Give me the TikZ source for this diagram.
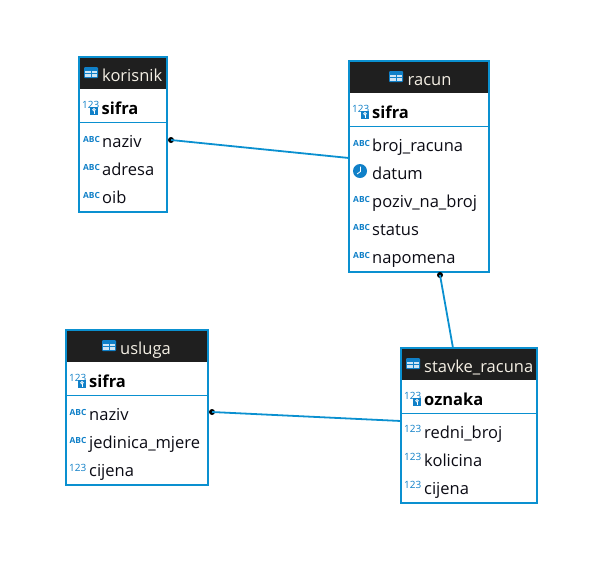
\documentclass[tikz,border=0pt]{standalone}
\usepackage{fontspec}
\setmainfont{Open Sans}
\definecolor{erblue}{HTML}{0A90D0}
\definecolor{eric}{HTML}{1080C8}
\definecolor{erdark}{HTML}{1F1F1F}
\definecolor{ertitle}{HTML}{F4EFE4}
\definecolor{erink}{HTML}{0B0B14}
\tikzset{
  erbox/.style={draw=erblue,line width=2pt,fill=white,anchor=north west,inner sep=0pt,outer sep=0pt},
  erhead/.style={fill=erdark,anchor=north west,inner sep=0pt,outer sep=0pt},
  titletext/.style={text=ertitle,font=\fontsize{16.5pt}{18pt}\selectfont,anchor=base west,inner sep=0pt},
  rowtext/.style={text=erink,font=\fontsize{16.5pt}{18pt}\selectfont,anchor=base west,inner sep=0pt},
  keytext/.style={text=black,font=\fontsize{16.5pt}{18pt}\selectfont\bfseries,anchor=base west,inner sep=0pt},
  abcicon/.style={text=eric,font=\fontsize{8.4pt}{9pt}\selectfont\bfseries,anchor=west,inner sep=0pt},
  numicon/.style={text=eric,font=\fontsize{10pt}{11pt}\selectfont,anchor=west,inner sep=0pt},
  conn/.style={draw=erblue,line width=1.8pt},
  enddot/.style={circle,fill=black,inner sep=0pt,minimum size=6pt,outer sep=0pt}
}
% table icon at left-top corner
\newcommand{\tabicon}[2]{%
  \fill[eric,rounded corners=1pt] (#1,#2) rectangle ++(14,11);
  \fill[white!80!eric] (#1+1.3,#2+4) rectangle ++(5.2,2.4);
  \fill[white!80!eric] (#1+7.5,#2+4) rectangle ++(5.2,2.4);
  \fill[white!80!eric] (#1+1.3,#2+7.2) rectangle ++(5.2,2.4);
  \fill[white!80!eric] (#1+7.5,#2+7.2) rectangle ++(5.2,2.4);
}
% key badge on 123
\newcommand{\keyicon}[2]{%
  \fill[eric] (#1,#2) rectangle ++(8,8);
  \draw[white,line width=.8pt] (#1+4,#2+2.8) circle (1.3);
  \draw[white,line width=.8pt] (#1+4,#2+4.1) -- ++(0,2.8);
}
\begin{document}
\begin{tikzpicture}[x=1pt,y=-1pt]
\useasboundingbox (0,0) rectangle (613,574);

% korisnik
\node[erbox,minimum width=88pt,minimum height=155pt] (korisnik) at (79,57) {};
\node[erhead,minimum width=86pt,minimum height=31pt] (korisnikh) at (80,58) {};
\draw[erblue,line width=1pt] (korisnik.west |- 0,122.5) -- (korisnik.east |- 0,122.5);
\tabicon{84}{67}
\node[titletext] (kt) at (102,81) {korisnik};
\node[numicon] (k1i) at (82,104.5) {123};
\keyicon{90}{107}
\node[keytext] (k1) at (101.5,114) {sifra};
\node[abcicon] (k2i) at (83,139.5) {ABC};
\node[rowtext] (k2) at (102,147) {naziv};
\node[abcicon] (k3i) at (83,167.5) {ABC};
\node[rowtext] (k3) at (102,175) {adresa};
\node[abcicon] (k4i) at (83,195.5) {ABC};
\node[rowtext] (k4) at (102,203) {oib};

% racun
\node[erbox,minimum width=140pt,minimum height=211pt] (racun) at (349,61) {};
\node[erhead,minimum width=138pt,minimum height=31pt] (racunh) at (350,62) {};
\draw[erblue,line width=1pt] (racun.west |- 0,126.5) -- (racun.east |- 0,126.5);
\tabicon{389}{71}
\node[titletext] (rt) at (407.5,85) {racun};
\node[numicon] (r1i) at (352,108.5) {123};
\keyicon{361}{111}
\node[keytext] (r1) at (372,118) {sifra};
\node[abcicon] (r2i) at (353,143.5) {ABC};
\node[rowtext] (r2) at (372,151) {broj\_racuna};
\fill[eric] (360,171) circle (7);
\draw[white,line width=.8pt] (360.5,166.5) -- (360.5,171.5) -- (357,174);
\node[rowtext] (r3) at (372,179) {datum};
\node[abcicon] (r4i) at (353,199.5) {ABC};
\node[rowtext] (r4) at (372,207) {poziv\_na\_broj};
\node[abcicon] (r5i) at (353,227.5) {ABC};
\node[rowtext] (r5) at (372,235) {status};
\node[abcicon] (r6i) at (353,255.5) {ABC};
\node[rowtext] (r6) at (372,263) {napomena};

% usluga
\node[erbox,minimum width=142pt,minimum height=155pt] (usluga) at (66,330) {};
\node[erhead,minimum width=140pt,minimum height=31pt] (uslugah) at (67,331) {};
\draw[erblue,line width=1pt] (usluga.west |- 0,395.5) -- (usluga.east |- 0,395.5);
\tabicon{102}{340}
\node[titletext] (ut) at (120,354) {usluga};
\node[numicon] (u1i) at (69,377.5) {123};
\keyicon{78}{380}
\node[keytext] (u1) at (89,387) {sifra};
\node[abcicon] (u2i) at (69.5,412.5) {ABC};
\node[rowtext] (u2) at (89,420) {naziv};
\node[abcicon] (u3i) at (69.5,440.5) {ABC};
\node[rowtext] (u3) at (89,448) {jedinica\_mjere};
\node[numicon] (u4i) at (69,467.5) {123};
\node[rowtext] (u4) at (89,476) {cijena};

% stavke_racuna
\node[erbox,minimum width=136pt,minimum height=155pt] (stavke) at (401,348) {};
\node[erhead,minimum width=134pt,minimum height=31pt] (stavkeh) at (402,349) {};
\draw[erblue,line width=1pt] (stavke.west |- 0,413.5) -- (stavke.east |- 0,413.5);
\tabicon{406}{358}
\node[titletext] (st) at (424,372) {stavke\_racuna};
\node[numicon] (s1i) at (404,395.5) {123};
\keyicon{413}{398}
\node[keytext] (s1) at (424,405) {oznaka};
\node[numicon] (s2i) at (404,428.5) {123};
\node[rowtext] (s2) at (424,438) {redni\_broj};
\node[numicon] (s3i) at (404,456.5) {123};
\node[rowtext] (s3) at (424,466) {kolicina};
\node[numicon] (s4i) at (404,484.5) {123};
\node[rowtext] (s4) at (424,494) {cijena};

% connector ends
\coordinate (e1) at (349,158);
\coordinate (e2) at (453,348);
\coordinate (e3) at (401,421);
\node[enddot] (d1) at (171,140) {};
\node[enddot] (d2) at (440,275) {};
\node[enddot] (d3) at (212,412) {};
\draw[conn] (d1.center) -- (e1);
\draw[conn] (d2.center) -- (e2);
\draw[conn] (d3.center) -- (e3);
\end{tikzpicture}
\end{document}
